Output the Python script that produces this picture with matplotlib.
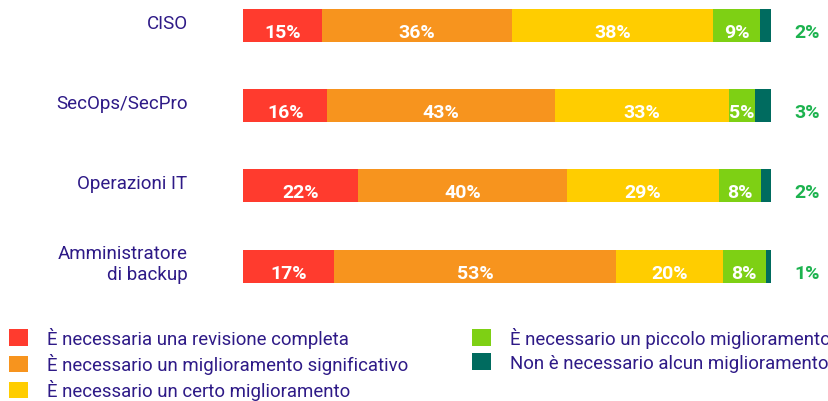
import matplotlib
matplotlib.use("Agg")
import matplotlib.pyplot as plt
from matplotlib.patches import Patch
import numpy as np

plt.rcParams['font.family'] = ['Roboto', 'DejaVu Sans']

categories = ["CISO", "SecOps/SecPro", "Operazioni IT", "Amministratore\ndi backup"]
series_names = [
    "È necessaria una revisione completa",
    "È necessario un miglioramento significativo",
    "È necessario un certo miglioramento",
    "È necessario un piccolo miglioramento",
    "Non è necessario alcun miglioramento",
]
revisione_completa = [15, 16, 22, 17]
miglioramento_significativo = [36, 43, 40, 53]
certo_miglioramento = [38, 33, 29, 20]
piccolo_miglioramento = [9, 5, 8, 8]
nessun_miglioramento = [2, 3, 2, 1]

colors = ["#FF3B2E", "#F7941E", "#FFCD00", "#7ED014", "#006B5F"]
TEXT = "#2E1A87"
GREEN_LBL = "#1DB34F"

W, H = 829, 402
fig = plt.figure(figsize=(W / 100, H / 100), dpi=100)
ax = fig.add_axes([243 / W, (H - 320) / H, 528 / W, 320 / H])

data = np.array([revisione_completa, miglioramento_significativo, certo_miglioramento,
                 piccolo_miglioramento, nessun_miglioramento], dtype=float)
totals = data.sum(axis=0)
frac = data / totals

y = np.arange(len(categories))
left = np.zeros(len(categories))
bar_h = 0.41
for i in range(len(series_names)):
    ax.barh(y, frac[i], left=left, height=bar_h, color=colors[i], label=series_names[i])
    for j in range(len(categories)):
        if i < 4:
            ax.text(left[j] + frac[i][j] / 2, y[j] + 0.145, f"{int(data[i][j])}%",
                    ha='center', va='baseline', color='white', fontsize=14,
                    fontweight='bold')
        else:
            ax.text(1.068, y[j] + 0.145, f"{int(data[i][j])}%", ha='center',
                    va='baseline', color=GREEN_LBL, fontsize=14, fontweight='bold')
    left += frac[i]

ax.set_xlim(0, 1)
ax.set_ylim(3.66, -0.33)
ax.axis('off')

for j, c in enumerate(categories):
    ax.text(-0.105, y[j] - 0.03, c, ha='right', va='center', color=TEXT,
            fontsize=13.5, linespacing=1.25, multialignment='right')

handles = [Patch(facecolor=colors[i], edgecolor='none') for i in range(5)]
common = dict(frameon=False, fontsize=13.4, handlelength=1.0, handleheight=1.0,
              handletextpad=1.02, labelspacing=0.28, borderpad=0, borderaxespad=0,
              labelcolor=TEXT, loc='upper left')
fig.legend(handles[:3], series_names[:3], bbox_to_anchor=(9 / W, 1 - 328 / H), **common)
fig.legend(handles[3:], series_names[3:], bbox_to_anchor=(472 / W, 1 - 328 / H), **common)

fig.savefig("out.png", dpi=100)
